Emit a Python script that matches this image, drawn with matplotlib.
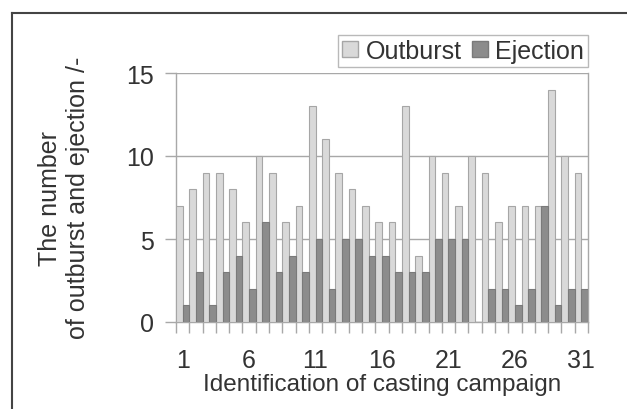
import numpy as np
import matplotlib
matplotlib.use("Agg")
import matplotlib.pyplot as plt
from matplotlib.lines import Line2D

# ── DATA ─────────────────────────────────────────────
campaigns = list(range(1, 32))
outburst = [7, 8, 9, 9, 8, 6, 10, 9, 6, 7, 13, 11, 9, 8, 7, 6,
            6, 13, 4, 10, 9, 7, 10, 9, 6, 7, 7, 7, 14, 10, 9]
ejection = [1, 3, 1, 3, 4, 2, 6, 3, 4, 3, 5, 2, 5, 5, 4, 4,
            3, 3, 3, 5, 5, 5, 0, 2, 2, 1, 2, 7, 1, 2, 2]
tick_labels = [1, 6, 11, 16, 21, 26, 31]
yticks = [0, 5, 10, 15]

plt.rcParams["font.family"] = ["Liberation Sans", "DejaVu Sans"]
TXT = "#333333"
GRID = "#a8a8a8"

fig = plt.figure(figsize=(6.27, 4.10), dpi=100)
ax = fig.add_axes([176 / 627, 1 - 323 / 410, 412 / 627, 249 / 410])

x = np.array(campaigns)
w = 0.5
ax.bar(x - w / 2, outburst, w, color="#d9d9d9", edgecolor="#a6a6a6",
       linewidth=0.8, label="Outburst", zorder=3)
ax.bar(x + w / 2, ejection, w, color="#8c8c8c", edgecolor="#7a7a7a",
       linewidth=0.8, label="Ejection", zorder=3)

ax.set_xlim(0.5, 31.5)
ax.set_ylim(0, 15)

ax.set_yticks(yticks)
ax.yaxis.grid(True, color=GRID, linewidth=1.0, zorder=0)
ax.tick_params(axis="y", length=8, color=GRID, width=1.0,
               labelsize=18, pad=8, labelcolor=TXT)

# category boundaries as ticks, labels at centres
ax.set_xticks(np.arange(0.5, 32, 1.0))
ax.set_xticklabels([])
ax.tick_params(axis="x", which="major", length=8, color=GRID, width=1.0)
ax.set_xticks(tick_labels, minor=True)
ax.set_xticklabels([str(t) for t in tick_labels], minor=True)
ax.tick_params(axis="x", which="minor", length=0, labelsize=18,
               pad=19, labelcolor=TXT)

for side in ["left", "bottom", "right"]:
    ax.spines[side].set_color(GRID)
    ax.spines[side].set_linewidth(1.0)
ax.spines["top"].set_visible(False)

fig.text(382 / 627, 1 - 391 / 410, "Identification of casting campaign",
         fontsize=17.5, color=TXT, ha="center", va="baseline")
fig.text(64 / 627, 1 - 198 / 410, "The number\nof outburst and ejection /-",
         fontsize=18, color=TXT, ha="center", va="center", rotation=90,
         multialignment="center", linespacing=1.25)

handles = [plt.Rectangle((0, 0), 1, 1, facecolor="#d9d9d9", edgecolor="#a6a6a6"),
           plt.Rectangle((0, 0), 1, 1, facecolor="#8c8c8c", edgecolor="#7a7a7a")]
leg = fig.legend(handles, ["Outburst", "Ejection"], loc="upper right",
                 bbox_to_anchor=(588 / 627, 1 - 36 / 410), ncol=2,
                 fontsize=18, frameon=True, fancybox=False,
                 handlelength=0.65, handleheight=0.65, handletextpad=0.3,
                 columnspacing=0.4, borderpad=0.15, borderaxespad=0)
leg.get_frame().set_edgecolor(GRID)
leg.get_frame().set_linewidth(1.0)
for t in leg.get_texts():
    t.set_color(TXT)

# outer frame (top and left edges visible)
fig.add_artist(Line2D([12 / 627, 12 / 627], [0, 1 - 14 / 410],
                      color="#444444", linewidth=1.5, transform=fig.transFigure))
fig.add_artist(Line2D([12 / 627, 1], [1 - 14 / 410, 1 - 14 / 410],
                      color="#444444", linewidth=1.5, transform=fig.transFigure))

fig.savefig("out.png", dpi=100)
